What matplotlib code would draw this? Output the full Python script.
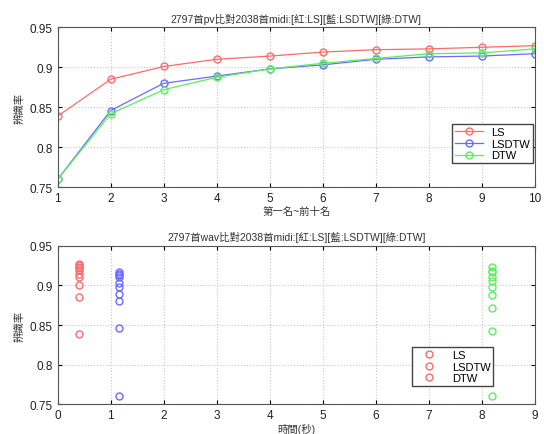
import numpy as np
import matplotlib
matplotlib.use("Agg")
import matplotlib.pyplot as plt

plt.rcParams['font.family'] = ['Liberation Sans', 'Noto Sans CJK TC', 'DejaVu Sans']

# rank 1..10 recognition rates
ranks = [1, 2, 3, 4, 5, 6, 7, 8, 9, 10]
ls_rate = [0.839, 0.885, 0.901, 0.910, 0.914, 0.919, 0.922, 0.923, 0.925, 0.927]
lsdtw_rate = [0.760, 0.846, 0.880, 0.889, 0.898, 0.903, 0.910, 0.913, 0.914, 0.917]
dtw_rate = [0.760, 0.842, 0.872, 0.8875, 0.898, 0.905, 0.911, 0.917, 0.918, 0.923]

# run time (sec) per method
ls_time = 0.40
lsdtw_time = 1.15
dtw_time = 8.20

labels = ['LS', 'LSDTW', 'DTW']
c_red = '#ff6a6a'
c_blue = '#6a6aff'
c_green = '#5af05a'


def style_axes(ax):
    ax.grid(True, color='#c8c8c8', linestyle=':', linewidth=0.8)
    ax.tick_params(direction='in', labelsize=8.5, length=3, top=True, right=True,
                   labelcolor='#222222')
    for s in ax.spines.values():
        s.set_color('#555555')
        s.set_linewidth(0.8)


fig = plt.figure(figsize=(5.44, 4.35), dpi=100)

# top panel
ax1 = fig.add_axes([0.106, 0.567, 0.877, 0.368])
for vals, col, lab in zip([ls_rate, lsdtw_rate, dtw_rate], [c_red, c_blue, c_green], labels):
    ax1.plot(ranks, vals, color=col, marker='o', markersize=5, markerfacecolor='none',
             linewidth=0.9, label=lab)
ax1.set_xlim(1, 10)
ax1.set_ylim(0.75, 0.95)
ax1.set_xticks(range(1, 11))
ax1.set_yticks([0.75, 0.8, 0.85, 0.9, 0.95])
ax1.set_yticklabels(['0.75', '0.8', '0.85', '0.9', '0.95'])
style_axes(ax1)
ax1.set_title('2797首pv比對2038首midi:[紅:LS][藍:LSDTW][綠:DTW]', fontsize=7.5, pad=4,
              color='#333333')
ax1.set_xlabel('第一名~前十名', fontsize=7.5, labelpad=1, color='#333333')
ax1.set_ylabel('辨識率', fontsize=7.5, labelpad=4, color='#333333')
ax1.legend(loc='lower right', bbox_to_anchor=(1.0, 0.14), fontsize=8, fancybox=False,
           edgecolor='#444444', framealpha=1, handlelength=2.5, borderpad=0.25,
           labelspacing=0.15, borderaxespad=0.15)

# bottom panel
ax2 = fig.add_axes([0.106, 0.068, 0.877, 0.365])
for t, vals, col, lab in zip([ls_time, lsdtw_time, dtw_time], [ls_rate, lsdtw_rate, dtw_rate],
                             [c_red, c_blue, c_green], labels):
    ax2.plot([t] * len(vals), vals, linestyle='none', marker='o', markersize=5,
             markerfacecolor='none', markeredgecolor=col, label=lab)
ax2.set_xlim(0, 9)
ax2.set_ylim(0.75, 0.95)
ax2.set_xticks(range(0, 10))
ax2.set_yticks([0.75, 0.8, 0.85, 0.9, 0.95])
ax2.set_yticklabels(['0.75', '0.8', '0.85', '0.9', '0.95'])
style_axes(ax2)
ax2.set_title('2797首wav比對2038首midi:[紅:LS][藍:LSDTW][綠:DTW]', fontsize=7.5, pad=4,
              color='#333333')
ax2.set_xlabel('時間(秒)', fontsize=7.5, labelpad=1, color='#333333')
ax2.set_ylabel('辨識率', fontsize=7.5, labelpad=4, color='#333333')
leg = ax2.legend(loc='lower right', bbox_to_anchor=(0.925, 0.08), fontsize=8, fancybox=False,
                 edgecolor='#444444', framealpha=1, handlelength=2.5, borderpad=0.25,
                 labelspacing=0.15)
# legend markers all drawn red like the original
for h in leg.legend_handles:
    h.set_markeredgecolor(c_red)

fig.savefig('out.png', dpi=100)
